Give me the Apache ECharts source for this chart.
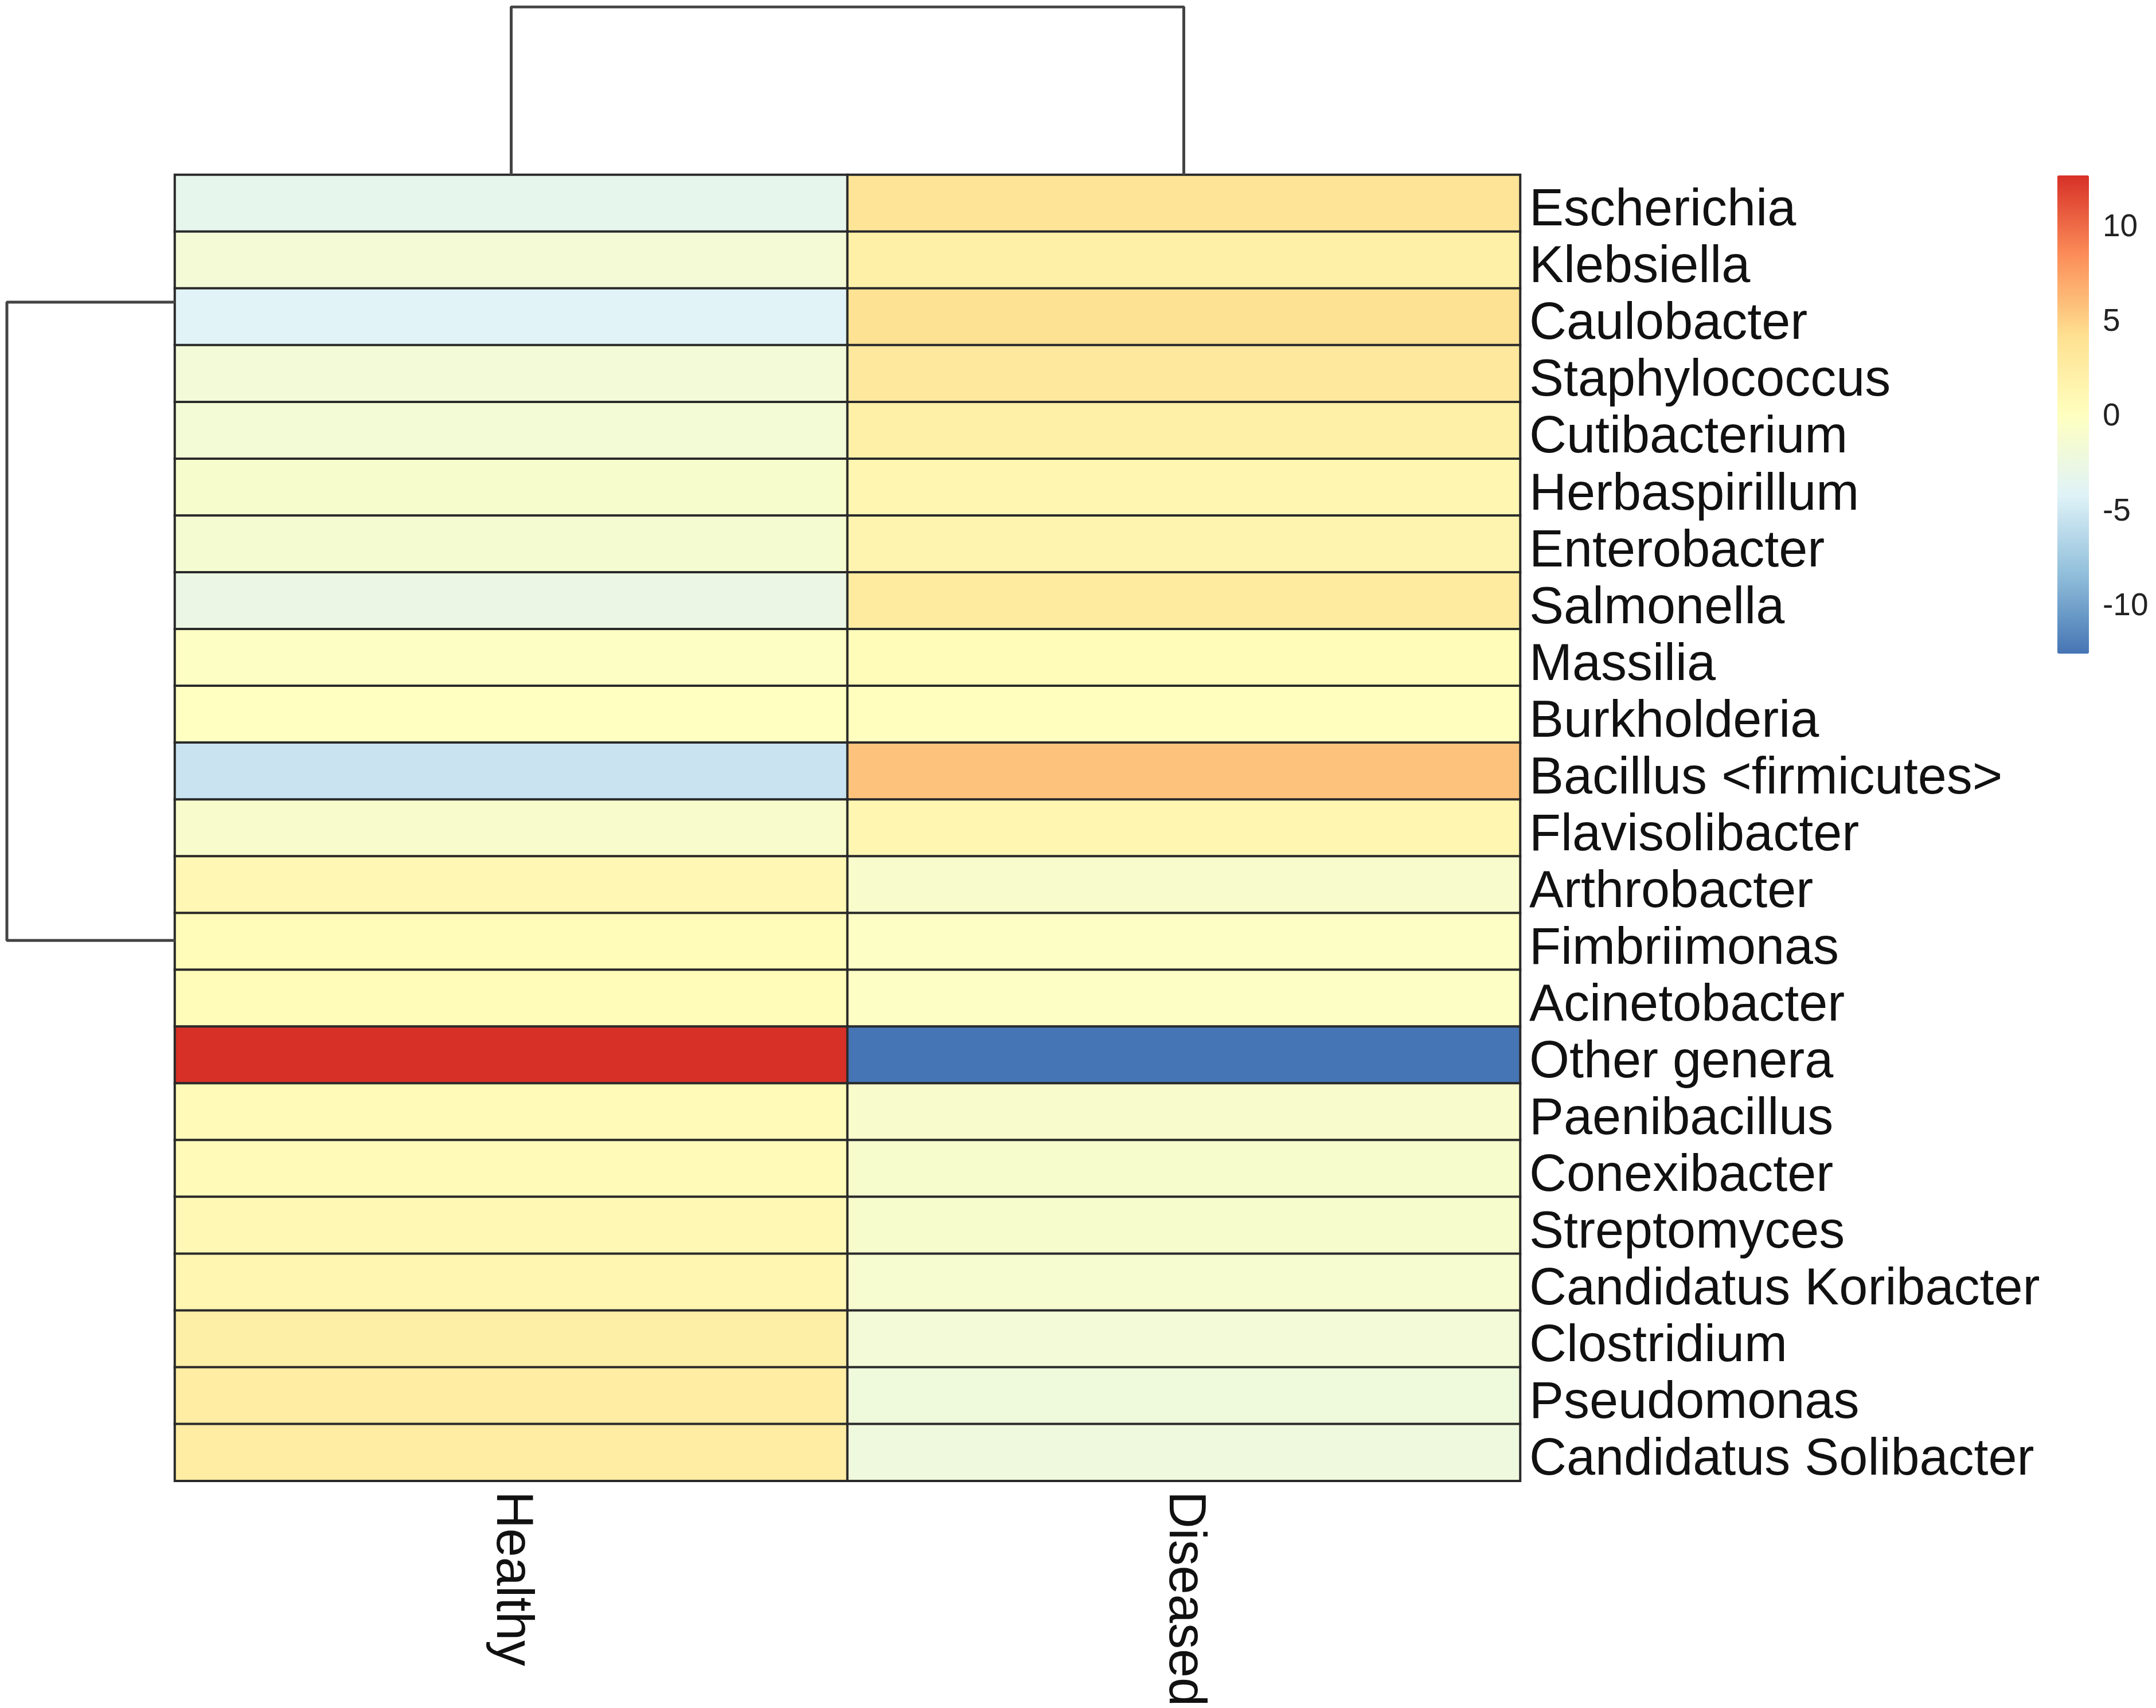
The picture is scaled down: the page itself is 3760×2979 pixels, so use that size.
<!DOCTYPE html>
<html>
<head>
<meta charset="utf-8">
<title>Genus heatmap</title>
<script src="https://cdn.jsdelivr.net/npm/echarts@6/dist/echarts.min.js"></script>
<style>
  html, body { margin: 0; padding: 0; background: #fff; }
  #chart { width: 3760px; height: 2979px; }
</style>
</head>
<body>
<div id="chart"></div>
<script>
// columns and rows (rows listed top to bottom, as clustered)
var groups = ['Healthy', 'Diseased'];
var genera = [
  'Escherichia', 'Klebsiella', 'Caulobacter', 'Staphylococcus', 'Cutibacterium',
  'Herbaspirillum', 'Enterobacter', 'Salmonella', 'Massilia', 'Burkholderia',
  'Bacillus <firmicutes>', 'Flavisolibacter', 'Arthrobacter', 'Fimbriimonas',
  'Acinetobacter', 'Other genera', 'Paenibacillus', 'Conexibacter', 'Streptomyces',
  'Candidatus Koribacter', 'Clostridium', 'Pseudomonas', 'Candidatus Solibacter'
];
var healthy = [-3.2, -1.5, -4.0, -1.7, -1.6, -0.9, -1.2, -2.6, -0.2, 0.0, -5.3, -0.8,
  1.2, 0.7, 0.7, 12.76, 0.8, 0.8, 1.1, 1.4, 2.3, 2.6, 2.6];
var diseased = [3.8, 2.2, 4.1, 3.2, 2.2, 1.3, 1.6, 2.9, 0.6, 0.2, 5.8, 1.3,
  -0.8, -0.3, -0.3, -12.5, -0.8, -0.9, -0.9, -1.1, -1.7, -2.0, -2.1];

// colour scale (pheatmap default, rev RdYlBu 7)
var palette = ['#4575B4', '#91BFDB', '#E0F3F8', '#FFFFBF', '#FEE090', '#FC8D59', '#D73027'];
var scaleMin = -12.5, scaleMax = 12.76;
var scaleTicks = [-10, -5, 0, 5, 10];

// dendrograms: leaf/cluster positions (in cell units) and merge height
var colTreeNodes = [0.5, 1.5];
var colTreeHeight = 1;
var rowTreeNodes = [2.24, 13.47];
var rowTreeHeight = 1;

var cells = [];
genera.forEach(function (g, i) {
  cells.push([0, i, healthy[i]]);
  cells.push([1, i, diseased[i]]);
});

var font = 'Liberation Sans, Arial, sans-serif';
var L = 305, T = 305, W = 2346, H = 2280;

var chart = echarts.init(document.getElementById('chart'));
chart.setOption({
  backgroundColor: '#fff',
  animation: false,
  grid: [
    { left: L, top: T, width: W, height: H },          // heatmap
    { left: L, top: 12, width: W, height: T - 12 },   // column tree
    { left: 12, top: T, width: L - 12, height: H },   // row tree
    { left: 3588, top: 306, width: 55, height: 834 }  // colour bar ticks
  ],
  xAxis: [
    {
      gridIndex: 0, type: 'category', data: groups, position: 'bottom',
      axisLine: { show: false }, axisTick: { show: false }, splitLine: { show: false },
      axisLabel: { interval: 0, rotate: -90, fontSize: 90, color: '#111', fontFamily: font, margin: 18 }
    },
    { gridIndex: 1, type: 'value', min: 0, max: groups.length, show: false },
    { gridIndex: 2, type: 'value', min: 0, max: rowTreeHeight, inverse: true, show: false },
    { gridIndex: 3, type: 'value', min: 0, max: 1, show: false }
  ],
  yAxis: [
    {
      gridIndex: 0, type: 'category', data: genera, inverse: true, position: 'right',
      axisLine: { show: false }, axisTick: { show: false }, splitLine: { show: false },
      axisLabel: {
        interval: 0, margin: 16,
        formatter: function (v) { return '{n|' + v + '}'; },
        rich: { n: { fontSize: 90, color: '#111', fontFamily: font, padding: [28, 0, 0, 0] } }
      }
    },
    { gridIndex: 1, type: 'value', min: 0, max: colTreeHeight, show: false },
    { gridIndex: 2, type: 'value', min: 0, max: genera.length, inverse: true, show: false },
    {
      gridIndex: 3, type: 'value', min: scaleMin, max: scaleMax, position: 'right',
      axisLine: { show: false }, axisTick: { show: false }, splitLine: { show: false },
      axisLabel: { customValues: scaleTicks, fontSize: 55, color: '#222', fontFamily: font, margin: 24 }
    }
  ],
  visualMap: {
    type: 'continuous', seriesIndex: 0, min: scaleMin, max: scaleMax,
    calculable: false, orient: 'vertical', left: 3588, top: 306, padding: 0,
    itemWidth: 55, itemHeight: 834, text: null, showLabel: false,
    inRange: { color: palette }
  },
  series: [
    {
      type: 'heatmap', xAxisIndex: 0, yAxisIndex: 0, data: cells,
      itemStyle: { borderColor: '#2a2a2a', borderWidth: 4 },
      emphasis: { disabled: true }
    },
    {
      type: 'line', xAxisIndex: 1, yAxisIndex: 1, symbol: 'none',
      lineStyle: { color: '#444', width: 5 },
      data: [[colTreeNodes[0], 0], [colTreeNodes[0], colTreeHeight],
             [colTreeNodes[1], colTreeHeight], [colTreeNodes[1], 0]]
    },
    {
      type: 'line', xAxisIndex: 2, yAxisIndex: 2, symbol: 'none',
      lineStyle: { color: '#444', width: 5 },
      data: [[0, rowTreeNodes[0]], [rowTreeHeight, rowTreeNodes[0]],
             [rowTreeHeight, rowTreeNodes[1]], [0, rowTreeNodes[1]]]
    }
  ]
});
</script>
</body>
</html>
